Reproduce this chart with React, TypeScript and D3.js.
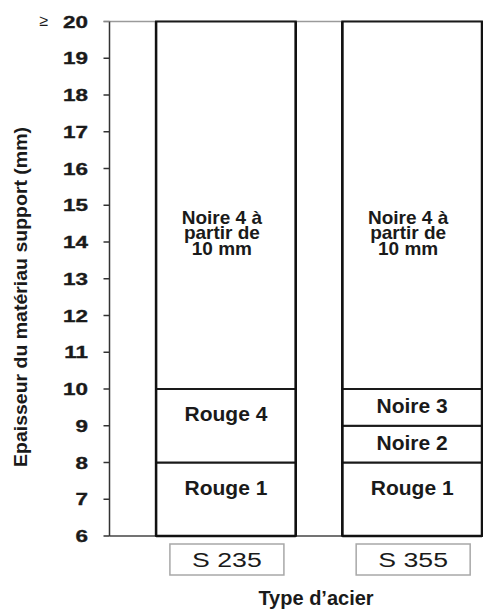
import React from "react";
import * as d3 from "d3";

const categories = ["S 235", "S 355"];
const segmentsS235 = [
  { from: 6, to: 8, label: ["Rouge 1"] },
  { from: 8, to: 10, label: ["Rouge 4"] },
  { from: 10, to: 20, label: ["Noire 4 à", "partir de", "10 mm"] },
];
const segmentsS355 = [
  { from: 6, to: 8, label: ["Rouge 1"] },
  { from: 8, to: 9, label: ["Noire 2"] },
  { from: 9, to: 10, label: ["Noire 3"] },
  { from: 10, to: 20, label: ["Noire 4 à", "partir de", "10 mm"] },
];
const yTicks = [6, 7, 8, 9, 10, 11, 12, 13, 14, 15, 16, 17, 18, 19, 20];
const topPrefix = "≥";
const yTitle = "Epaisseur du matériau support (mm)";
const xTitle = "Type d’acier";

const W = 483;
const H = 609;
const FONT = "'Liberation Sans', Arial, Helvetica, sans-serif";
const INK = "#1a1a1a";

export default function App() {
  const stacks = [segmentsS235, segmentsS355];
  const y = d3.scaleLinear().domain([6, 20]).range([536, 21.5]);
  const x = d3
    .scaleBand<string>()
    .domain(categories)
    .range([109.5, 482])
    .paddingInner(0.25)
    .paddingOuter(0.125)
    .align(1);
  const bw = x.bandwidth();
  const axisX = 109.5;
  const right = 482;

  return (
    <svg
      width={W}
      height={H}
      style={{ position: "absolute", left: 0, top: 0, display: "block", background: "#fff" }}
      fontFamily={FONT}
    >
      <rect x={0} y={0} width={W} height={H} fill="#fff" />
      <line x1={axisX - 6} x2={right} y1={y(20)} y2={y(20)} stroke="#9a9a9a" strokeWidth={1.5} />
      <line x1={axisX} x2={right} y1={y(6)} y2={y(6)} stroke="#444" strokeWidth={1.5} />
      <line x1={axisX} x2={axisX} y1={y(20)} y2={y(6)} stroke="#333" strokeWidth={1.5} />
      {yTicks.map((t) => (
        <g key={t}>
          <line x1={axisX - 6} x2={axisX} y1={y(t)} y2={y(t)} stroke={t === 20 ? "#888" : "#333"} strokeWidth={1.5} />
          <text
            transform={`translate(88, ${y(t) + 6}) scale(1.36,1)`}
            textAnchor="end"
            fontSize={16.5}
            fontWeight="bold"
            fill={INK}
            stroke={INK}
            strokeWidth={0.35}
          >
            {t}
          </text>
        </g>
      ))}
      <text x={44} y={26} textAnchor="middle" fontSize={16} fill={INK}>
        {topPrefix}
      </text>

      {stacks.map((segs, i) => {
        const cat = categories[i];
        const x0 = x(cat)!;
        const cx = x0 + bw / 2;
        return (
          <g key={cat}>
            {segs.map((s, j) => {
              const yt = y(s.to);
              const yb = y(s.from);
              const h = yb - yt;
              let labels;
              if (s.label.length > 1) {
                const ymid = y((s.from + s.to) / 2);
                labels = s.label.map((l, k) => (
                  <text
                    key={k}
                    x={cx - 4}
                    y={ymid + 18.5 + k * 15.5}
                    textAnchor="middle"
                    fontSize={19}
                    fontWeight="bold"
                    fill={INK}
                  >
                    {l}
                  </text>
                ));
              } else {
                const base = yt + Math.min(h / 2 + 6, 32);
                labels = (
                  <text x={cx} y={base} textAnchor="middle" fontSize={21} fontWeight="bold" fill={INK}>
                    {s.label[0]}
                  </text>
                );
              }
              return (
                <g key={j}>
                  <rect x={x0} y={yt} width={bw} height={h} fill="#fff" stroke={INK} strokeWidth={2} />
                  {labels}
                </g>
              );
            })}
            <line x1={x0} x2={x0} y1={y(20)} y2={y(6)} stroke="#111" strokeWidth={2.5} />
            <line x1={x0 + bw} x2={x0 + bw} y1={y(20)} y2={y(6)} stroke="#111" strokeWidth={2.5} />
            <line x1={x0} x2={x0 + bw} y1={y(6)} y2={y(6)} stroke="#111" strokeWidth={2.5} />
            <rect
              x={cx + 1 - 57}
              y={544}
              width={114}
              height={31}
              fill="#fff"
              stroke="#a8a8a8"
              strokeWidth={1.5}
            />
            <text
              transform={`translate(${cx + 1}, 567) scale(1.3,1)`}
              textAnchor="middle"
              fontSize={20.5}
              fill={INK}
            >
              {cat}
            </text>
          </g>
        );
      })}

      <text
        transform={`translate(27, 297) rotate(-90)`}
        textAnchor="middle"
        fontSize={18}
        fontWeight="bold"
        fill={INK}
        textLength={340}
        lengthAdjust="spacingAndGlyphs"
      >
        {yTitle}
      </text>
      <text x={316} y={605} textAnchor="middle" fontSize={20} fontWeight="bold" fill={INK}>
        {xTitle}
      </text>
    </svg>
  );
}
